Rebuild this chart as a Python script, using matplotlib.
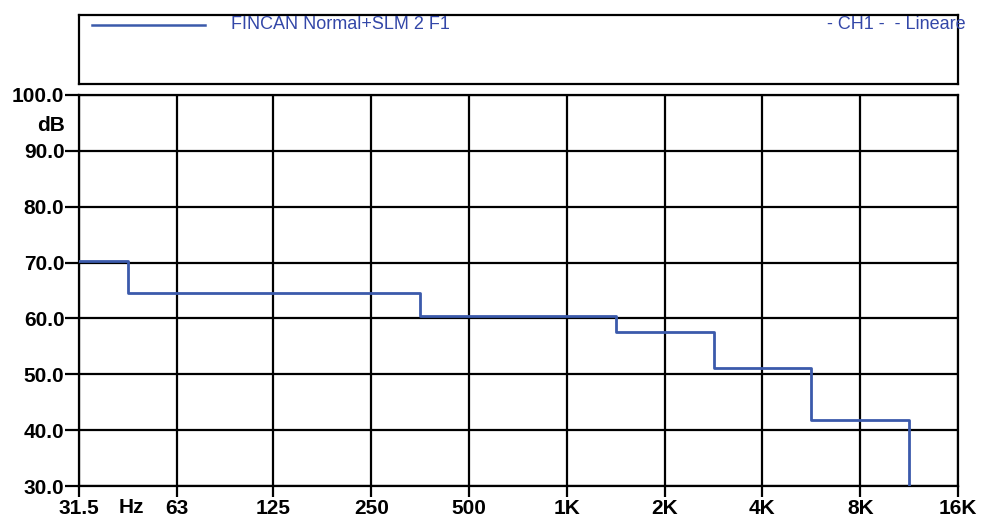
import numpy as np
import matplotlib
matplotlib.use("Agg")
from matplotlib import pyplot as plt
from matplotlib.lines import Line2D

plt.rcParams['font.family'] = ['Liberation Sans', 'DejaVu Sans']

# octave band centres (Hz) and measured level per band (dB)
centres = [31.5, 63, 125, 250, 500, 1000, 2000, 4000, 8000]
levels = [70.2, 64.5, 64.5, 64.5, 60.5, 60.5, 57.6, 51.2, 41.8]

tick_freqs = [31.5, 63, 125, 250, 500, 1000, 2000, 4000, 8000, 16000]
tick_labels = ['31.5', '63', '125', '250', '500', '1K', '2K', '4K', '8K', '16K']
y_ticks = [30, 40, 50, 60, 70, 80, 90, 100]

series_name = 'FINCAN Normal+SLM 2 F1'
channel_text = '- CH1 -  - Lineare'

line_col = '#3b5aab'
text_col = '#3347a8'
fs = 15

W, H = 983, 520
fig = plt.figure(figsize=(W / 100, H / 100), dpi=100)

def px_axes(x0, y0, x1, y1):
    return fig.add_axes([x0 / W, 1 - y1 / H, (x1 - x0) / W, (y1 - y0) / H])

ax = px_axes(79, 95, 958, 486)

# band edges half an octave either side of each centre
c = np.array(centres)
edges = list(c / np.sqrt(2)) + [c[-1] * np.sqrt(2)]
ax.plot(edges, levels + [y_ticks[0]], drawstyle='steps-post',
        color=line_col, lw=2.0, zorder=3, clip_on=True)

ax.set_xscale('log')
ax.set_xlim(tick_freqs[0], tick_freqs[-1])
ax.set_ylim(y_ticks[0], y_ticks[-1])
ax.set_xticks(tick_freqs)
ax.set_xticklabels(tick_labels)
ax.xaxis.set_minor_locator(matplotlib.ticker.NullLocator())
ax.set_yticks(y_ticks)
ax.set_yticklabels(['%.1f' % v for v in y_ticks])
ax.grid(True, color='black', lw=1.6, zorder=1)
for s in ax.spines.values():
    s.set_linewidth(1.6)
ax.tick_params(axis='y', length=10, width=1.6, pad=0.5, labelsize=fs)
ax.tick_params(axis='x', length=8, width=1.6, pad=1.0, labelsize=fs)
for lab in ax.get_xticklabels() + ax.get_yticklabels():
    lab.set_fontweight('bold')

ax.text(-0.016, 94.6, 'dB', transform=ax.get_yaxis_transform(),
        ha='right', va='center', fontsize=fs, fontweight='bold')
ax.text(45.5, -0.056, 'Hz', transform=ax.get_xaxis_transform(),
        ha='center', va='center', fontsize=fs, fontweight='bold')

# legend box above the plot, data coords in figure pixels
lg = px_axes(79, 15, 958, 84)
lg.set_xlim(79, 958)
lg.set_ylim(84, 15)
lg.set_xticks([])
lg.set_yticks([])
for s in lg.spines.values():
    s.set_linewidth(1.6)
lg.add_line(Line2D([92, 205], [25, 25], color=line_col, lw=1.8))
lg.text(231, 24.5, series_name, color=text_col, fontsize=13,
        ha='left', va='center')
lg.text(966, 24.5, channel_text, color=text_col, fontsize=13,
        ha='right', va='center', clip_on=False)

fig.savefig('out.png', dpi=100)
